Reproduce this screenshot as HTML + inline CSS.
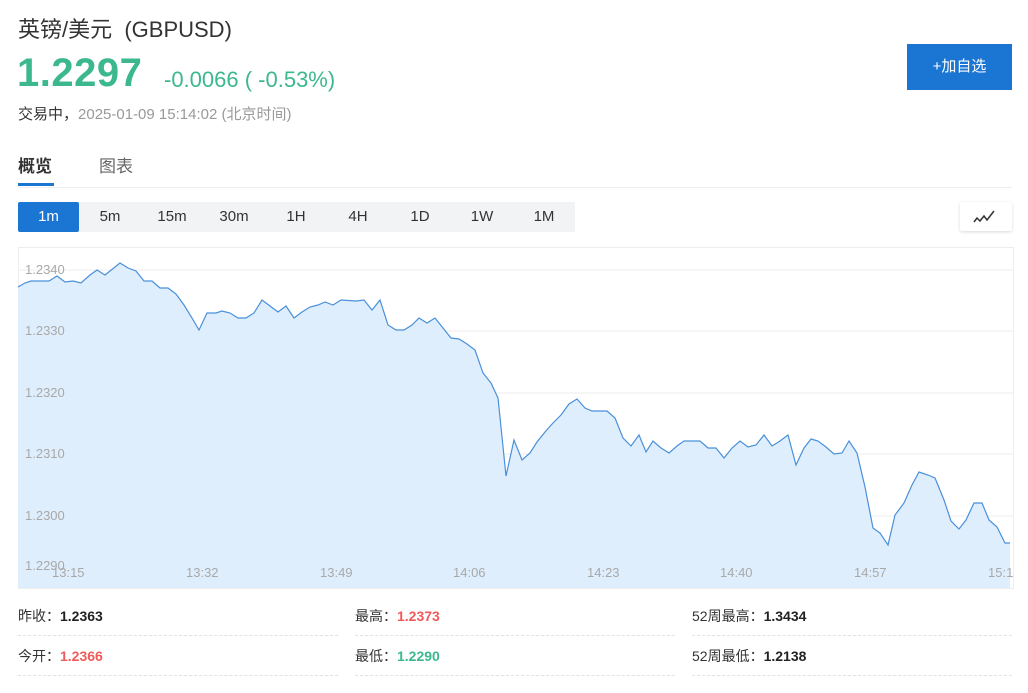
<!DOCTYPE html>
<html><head><meta charset="utf-8"><style>
body{margin:0;width:1028px;height:693px;background:#fff;font-family:"Liberation Sans","Noto Sans CJK SC",sans-serif;position:relative;overflow:hidden}
.a{position:absolute;white-space:nowrap}
.tf{position:absolute;top:202px;height:30px;width:62px;line-height:30px;text-align:center;font-size:15px;color:#333;background:#f2f3f5}
.lab{font-size:14px;color:#333}
.val{font-weight:bold;font-size:14px}
.dl{position:absolute;height:0;border-top:1px dashed #e2e2e2}
</style></head><body>
<div class="a" style="left:18px;top:12px;font-size:22px;color:#333">英镑/美元&nbsp;&nbsp;(GBPUSD)</div>
<div class="a" style="left:17px;top:51px;font-size:40px;font-weight:bold;color:#3cb88f;letter-spacing:0.5px">1.2297</div>
<div class="a" style="left:164px;top:67px;font-size:22px;color:#3cb88f">-0.0066 ( -0.53%)</div>
<div class="a" style="left:18px;top:103px;font-size:15px;color:#333">交易中，<span style="color:#999">2025-01-09 15:14:02 (北京时间)</span></div>
<div class="a" style="left:907px;top:44px;width:105px;height:46px;background:#1a76d2;color:#fff;font-size:15px;line-height:46px;text-align:center">+加自选</div>
<div class="a" style="left:18px;top:152px;font-size:17px;font-weight:bold;color:#333">概览</div>
<div class="a" style="left:18px;top:183px;width:36px;height:3px;background:#1a76d2"></div>
<div class="a" style="left:99px;top:152px;font-size:17px;color:#666">图表</div>
<div class="a" style="left:18px;top:187px;width:994px;height:1px;background:#eee"></div>
<div class="tf" style="left:18px;background:#1a76d2;color:#fff;width:61px;border-radius:2px">1m</div>
<div class="tf" style="left:79px">5m</div><div class="tf" style="left:141px">15m</div><div class="tf" style="left:203px">30m</div><div class="tf" style="left:265px">1H</div><div class="tf" style="left:327px">4H</div><div class="tf" style="left:389px">1D</div><div class="tf" style="left:451px">1W</div><div class="tf" style="left:513px">1M</div>
<div class="a" style="left:960px;top:202px;width:52px;height:29px;background:#fff;box-shadow:0 1px 3px rgba(0,0,0,.15);border-radius:2px">
<svg width="52" height="29"><polyline points="14,20 17,16 20,19 24,14 27,18 34,9" fill="none" stroke="#333" stroke-width="1.5"/></svg></div>
<svg class="a" style="left:0;top:0" width="1028" height="600">
<rect x="18.5" y="247.5" width="995" height="341" fill="none" stroke="#eee"/>
<g stroke="#eee"><line x1="18" x2="1013" y1="270" y2="270"/><line x1="18" x2="1013" y1="331" y2="331"/><line x1="18" x2="1013" y1="393" y2="393"/><line x1="18" x2="1013" y1="454" y2="454"/><line x1="18" x2="1013" y1="516" y2="516"/><line x1="18" x2="1013" y1="577" y2="577"/></g>
<path d="M18,287 L25,283 L31,281 L49,281 L57,276 L65,282 L73,281 L81,283 L90,275 L97,270 L105,275 L120,263 L128,268 L136,271 L144,281 L152,281 L160,288 L168,288 L176,294 L184,305 L192,318 L199,330 L207,313 L216,313 L222,311 L230,313 L238,318 L246,318 L254,313 L262,300 L270,306 L278,312 L286,306 L294,318 L302,312 L310,307 L318,305 L325,302 L333,305 L341,300 L356,301 L364,300 L372,310 L380,300 L388,325 L396,330 L404,330 L412,325 L419,318 L427,323 L435,318 L443,328 L451,338 L459,339 L467,344 L475,350 L483,373 L491,383 L498,398 L506,476 L514,440 L522,460 L530,453 L537,442 L545,432 L553,423 L561,415 L569,404 L577,399 L585,408 L592,411 L607,411 L615,418 L623,438 L631,446 L639,435 L646,452 L653,441 L661,448 L669,453 L677,446 L684,441 L700,441 L708,448 L716,448 L724,458 L732,448 L740,441 L748,447 L756,445 L764,435 L772,446 L780,441 L788,435 L796,465 L804,448 L811,439 L818,441 L826,447 L834,454 L842,453 L849,441 L857,453 L865,487 L873,528 L880,533 L888,545 L895,515 L904,503 L912,485 L919,472 L928,475 L935,478 L944,500 L951,521 L959,529 L966,520 L974,503 L982,503 L989,520 L997,527 L1005,543 L1010,543 L1010,588 L18,588 Z" fill="#dfeefd" stroke="none"/>
<polyline fill="none" stroke="#4a90d9" stroke-width="1.2" points="18,287 25,283 31,281 49,281 57,276 65,282 73,281 81,283 90,275 97,270 105,275 120,263 128,268 136,271 144,281 152,281 160,288 168,288 176,294 184,305 192,318 199,330 207,313 216,313 222,311 230,313 238,318 246,318 254,313 262,300 270,306 278,312 286,306 294,318 302,312 310,307 318,305 325,302 333,305 341,300 356,301 364,300 372,310 380,300 388,325 396,330 404,330 412,325 419,318 427,323 435,318 443,328 451,338 459,339 467,344 475,350 483,373 491,383 498,398 506,476 514,440 522,460 530,453 537,442 545,432 553,423 561,415 569,404 577,399 585,408 592,411 607,411 615,418 623,438 631,446 639,435 646,452 653,441 661,448 669,453 677,446 684,441 700,441 708,448 716,448 724,458 732,448 740,441 748,447 756,445 764,435 772,446 780,441 788,435 796,465 804,448 811,439 818,441 826,447 834,454 842,453 849,441 857,453 865,487 873,528 880,533 888,545 895,515 904,503 912,485 919,472 928,475 935,478 944,500 951,521 959,529 966,520 974,503 982,503 989,520 997,527 1005,543 1010,543"/>
<g font-family="Liberation Sans" font-size="13" fill="#a8a8a8">
<text x="25" y="274">1.2340</text><text x="25" y="335">1.2330</text><text x="25" y="397">1.2320</text><text x="25" y="458">1.2310</text><text x="25" y="520">1.2300</text><text x="25" y="570">1.2290</text>
<text x="52" y="577">13:15</text><text x="186" y="577">13:32</text><text x="320" y="577">13:49</text><text x="453" y="577">14:06</text><text x="587" y="577">14:23</text><text x="720" y="577">14:40</text><text x="854" y="577">14:57</text><text x="988" y="577">15:1</text>
</g></svg>
<div class="a" style="left:18px;top:606px"><span class="lab">昨收：</span><span class="val" style="color:#222">1.2363</span></div>
<div class="a" style="left:355px;top:606px"><span class="lab">最高：</span><span class="val" style="color:#f05a5a">1.2373</span></div>
<div class="a" style="left:692px;top:606px"><span class="lab">52周最高：</span><span class="val" style="color:#222">1.3434</span></div>
<div class="a" style="left:18px;top:646px"><span class="lab">今开：</span><span class="val" style="color:#f05a5a">1.2366</span></div>
<div class="a" style="left:355px;top:646px"><span class="lab">最低：</span><span class="val" style="color:#3cb88f">1.2290</span></div>
<div class="a" style="left:692px;top:646px"><span class="lab">52周最低：</span><span class="val" style="color:#222">1.2138</span></div>
<div class="dl" style="left:18px;width:320px;top:635px"></div><div class="dl" style="left:355px;width:320px;top:635px"></div><div class="dl" style="left:692px;width:320px;top:635px"></div>
<div class="dl" style="left:18px;width:320px;top:675px"></div><div class="dl" style="left:355px;width:320px;top:675px"></div><div class="dl" style="left:692px;width:320px;top:675px"></div>
</body></html>
